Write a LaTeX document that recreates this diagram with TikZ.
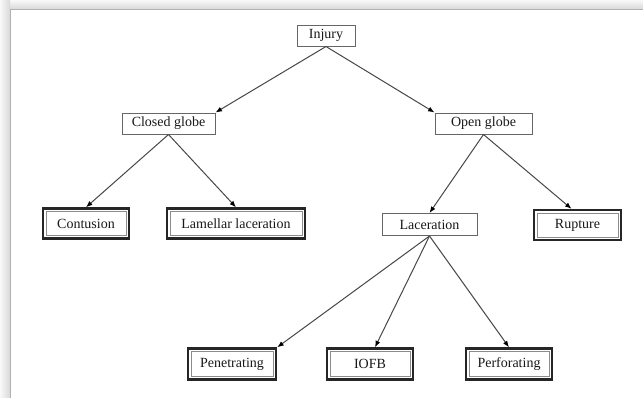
\documentclass[tikz,border=0pt]{standalone}
\usepackage{fontspec}
\setmainfont{Liberation Serif}
\usetikzlibrary{arrows.meta}
\usetikzlibrary{positioning}

\begin{document}
\begin{tikzpicture}[x=1pt, y=-1pt, on grid, font=\fontsize{14}{16}\selectfont,
	box/.style = {rectangle, draw = black!60, line width = 1pt, fill = white, text = black!90, inner sep = 0pt, minimum height = 21pt},
	leaf/.style = {rectangle, draw = black!85, line width = 2.4pt, fill = white, text = black!90, inner sep = 0pt, minimum height = 30pt,
		path picture = {\draw[black!45, line width = 0.8pt] ([shift={(3pt,-3pt)}]path picture bounding box.north west) rectangle ([shift={(-3pt,3pt)}]path picture bounding box.south east);}},
	link/.style = {draw = black!72, line width = 1pt, -{Latex[length=6.5pt, width=5pt, color=black]}}]
	% card and its shadow
	\useasboundingbox (0,0) rectangle (643,397);
	\fill[gray!15] (0,0) rectangle (643,397);
	\shade[top color = gray!5, bottom color = gray!30] (0,0) rectangle (643,9);
	\shade[left color = gray!5, right color = gray!30] (0,0) rectangle (10,397);
	\filldraw[fill = white, draw = gray!60, line width = 0.8pt] (10,9) rectangle (646,400);
	% nodes
	\node[box, minimum width = 58pt] (injury) at (326,35.5) {Injury};
	\node[box, minimum width = 93pt] (closed) [below left = 88pt and 157.5pt of injury] {Closed globe};
	\node[box, minimum width = 97pt] (open) [below right = 88pt and 157.5pt of injury] {Open globe};
	\node[leaf, minimum width = 86pt] (contusion) [below left = 100pt and 82.5pt of closed] {Contusion};
	\node[leaf, minimum width = 138pt] (lamellar) [below right = 100pt and 67.5pt of closed] {Lamellar laceration};
	\node[box, minimum width = 95pt, minimum height = 22pt] (laceration) [below left = 101pt and 54pt of open] {Laceration};
	\node[leaf, minimum width = 87pt] (rupture) [below right = 101.5pt and 94pt of open] {Rupture};
	\node[leaf, minimum width = 88pt, minimum height = 31pt] (penetrating) [below left = 139.5pt and 197.5pt of laceration] {Penetrating};
	\node[leaf, minimum width = 86pt, minimum height = 31pt] (iofb) [below left = 139.5pt and 59.5pt of laceration] {IOFB};
	\node[leaf, minimum width = 86pt, minimum height = 31pt] (perforating) [below right = 139.5pt and 79.5pt of laceration] {Perforating};
	% arrows
	\draw[link] (injury.south) -- (closed.north east);
	\draw[link] (injury.south) -- (open.north west);
	\draw[link] (closed.south) -- (contusion.north);
	\draw[link] (closed.south) -- (lamellar.north);
	\draw[link] (open.south) -- (laceration.north);
	\draw[link] (open.south) -- ([xshift=-6pt]rupture.north);
	\draw[link] (laceration.south) -- (penetrating.north east);
	\draw[link] (laceration.south) -- ([xshift=5pt]iofb.north);
	\draw[link] (laceration.south) -- (perforating.north);
\end{tikzpicture}
\end{document}
